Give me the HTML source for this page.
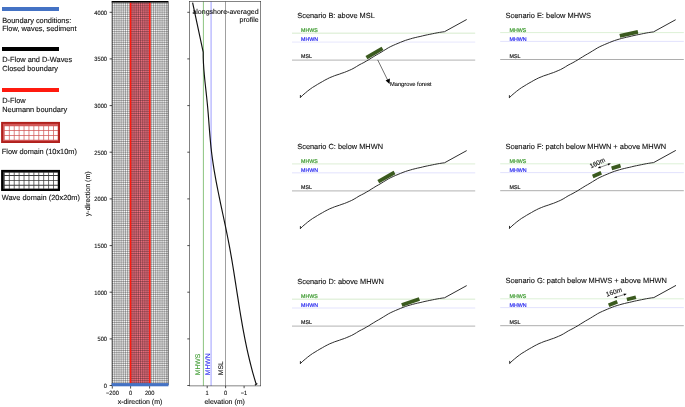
<!DOCTYPE html>
<html><head><meta charset="utf-8"><title>Figure</title>
<style>
html,body{margin:0;padding:0;background:#fff;}
body{width:685px;height:407px;overflow:hidden;}
svg{display:block;font-family:"Liberation Sans",Arial,sans-serif;}
.lg{font-size:7.4px;fill:#111;stroke:#111;}
.tk{font-size:6.2px;fill:#111;stroke:#111;}
.ax{font-size:7px;fill:#111;stroke:#111;}
.ti{font-size:7.38px;fill:#111;stroke:#111;}
.sm{font-size:5.3px;stroke-width:0.18px;}
text{stroke-width:0.12px;text-rendering:geometricPrecision;}
</style></head><body>
<svg width="685" height="407" viewBox="0 0 685 407">
<defs>
<pattern id="wg" x="112" y="385.5" width="1.866" height="1.866" patternUnits="userSpaceOnUse">
<path d="M0 0H1.87M0 0V1.87" stroke="#000" stroke-width="0.56" fill="none"/>
</pattern>
<pattern id="fg" x="130.5" y="384.5" width="0.93" height="0.93" patternUnits="userSpaceOnUse">
<path d="M0 0H0.93M0 0V0.93" stroke="#e01020" stroke-width="0.5" fill="none"/>
</pattern>
<path id="curve" d="M300.4 95 L300.4 97.7 L300.4 97.5 L302.8 95.1 L305.3 93.0 L307.7 91.0 L310.2 89.1 L312.6 87.4 L315.1 85.9 L317.5 84.4 L319.9 83.0 L322.4 81.6 L324.8 80.2 L327.3 78.9 L329.7 77.7 L332.2 76.7 L334.6 75.7 L337.0 74.9 L339.5 74.1 L341.9 73.2 L344.4 72.4 L346.8 71.4 L349.2 70.4 L351.7 69.3 L354.1 68.0 L356.6 66.5 L359.0 65.0 L361.5 63.7 L363.9 62.5 L366.3 61.1 L368.8 59.7 L371.2 58.1 L373.7 56.6 L376.1 55.1 L378.6 53.7 L381.0 52.3 L383.4 50.8 L385.9 49.3 L388.3 47.8 L390.8 46.5 L393.2 45.4 L395.7 44.3 L398.1 43.3 L400.5 42.3 L403.0 41.3 L405.4 40.4 L407.9 39.6 L410.3 38.9 L412.7 38.2 L415.2 37.6 L417.6 37.0 L420.1 36.5 L422.5 35.9 L425.0 35.3 L427.4 34.8 L429.8 34.3 L432.3 33.8 L434.7 33.3 L437.2 32.8 L439.6 32.4 L442.1 32.0 L444.5 31.7 L466.7 19.5" fill="none" stroke="#222" stroke-width="0.95" stroke-linejoin="round"/>
<g id="linesL">
<line x1="292" x2="475.2" y1="33.3" y2="33.3" stroke="#e4f2de" stroke-width="1.4"/>
<line x1="292" x2="475.2" y1="42.1" y2="42.1" stroke="#ececfe" stroke-width="1.4"/>
<line x1="292" x2="475.2" y1="60.2" y2="60.2" stroke="#c2c2c2" stroke-width="1.2"/>
</g>
<g id="linesR">
<line x1="291.6" x2="475.2" y1="33.3" y2="33.3" stroke="#c4e6ba" stroke-width="0.6"/>
<line x1="291.6" x2="475.2" y1="42.1" y2="42.1" stroke="#d6d6fc" stroke-width="0.7"/>
<line x1="291.6" x2="475.2" y1="60.2" y2="60.2" stroke="#a4a4a4" stroke-width="0.9"/>
</g>
<rect id="patch" x="-9.3" y="-1.9" width="18.6" height="3.8" fill="#3b5a1f"/>
<rect id="spatch" x="-4.65" y="-1.85" width="9.3" height="3.7" fill="#3b5a1f"/>
</defs>
<rect width="685" height="407" fill="#fff"/>

<g>
<rect x="2" y="7" width="57" height="4" fill="#4472c4"/>
<text class="lg" x="2.2" y="22.6">Boundary conditions:</text>
<text class="lg" x="2.2" y="31.4">Flow, waves, sediment</text>
<rect x="2" y="47" width="57" height="4" fill="#000"/>
<text class="lg" x="2.2" y="62.3">D-Flow and D-Waves</text>
<text class="lg" x="2.2" y="70.8">Closed boundary</text>
<rect x="2" y="88" width="57" height="4" fill="#ff1a0f"/>
<text class="lg" x="2.2" y="103.4">D-Flow</text>
<text class="lg" x="2.2" y="112.3">Neumann boundary</text>

<rect x="1.1" y="121.9" width="58.9" height="21.1" fill="#b0201c"/><rect x="3" y="123.80000000000001" width="55.1" height="17.3" fill="#d25858"/><path d="M4.68 126.25h4.2v3.90h-4.2zM4.68 130.95h4.2v4.00h-4.2zM4.68 135.75h4.2v4.10h-4.2zM9.61 126.25h4.2v3.90h-4.2zM9.61 130.95h4.2v4.00h-4.2zM9.61 135.75h4.2v4.10h-4.2zM14.54 126.25h4.2v3.90h-4.2zM14.54 130.95h4.2v4.00h-4.2zM14.54 135.75h4.2v4.10h-4.2zM19.47 126.25h4.2v3.90h-4.2zM19.47 130.95h4.2v4.00h-4.2zM19.47 135.75h4.2v4.10h-4.2zM24.40 126.25h4.2v3.90h-4.2zM24.40 130.95h4.2v4.00h-4.2zM24.40 135.75h4.2v4.10h-4.2zM29.33 126.25h4.2v3.90h-4.2zM29.33 130.95h4.2v4.00h-4.2zM29.33 135.75h4.2v4.10h-4.2zM34.26 126.25h4.2v3.90h-4.2zM34.26 130.95h4.2v4.00h-4.2zM34.26 135.75h4.2v4.10h-4.2zM39.19 126.25h4.2v3.90h-4.2zM39.19 130.95h4.2v4.00h-4.2zM39.19 135.75h4.2v4.10h-4.2zM44.12 126.25h4.2v3.90h-4.2zM44.12 130.95h4.2v4.00h-4.2zM44.12 135.75h4.2v4.10h-4.2zM49.05 126.25h4.2v3.90h-4.2zM49.05 130.95h4.2v4.00h-4.2zM49.05 135.75h4.2v4.10h-4.2zM53.98 126.25h3.7v3.90h-3.7zM53.98 130.95h3.7v4.00h-3.7zM53.98 135.75h3.7v4.10h-3.7z" fill="#fff"/>
<text class="lg" x="1.8" y="153.7">Flow domain (10x10m)</text>
<rect x="1.1" y="169.9" width="58.9" height="21.1" fill="#000"/><rect x="3" y="171.8" width="55.1" height="17.3" fill="#383838"/><path d="M4.68 172.85h4.2v2.20h-4.2zM4.68 175.95h4.2v4.00h-4.2zM4.68 180.85h4.2v3.80h-4.2zM4.68 185.75h4.2v2.80h-4.2zM9.61 172.85h4.2v2.20h-4.2zM9.61 175.95h4.2v4.00h-4.2zM9.61 180.85h4.2v3.80h-4.2zM9.61 185.75h4.2v2.80h-4.2zM14.54 172.85h4.2v2.20h-4.2zM14.54 175.95h4.2v4.00h-4.2zM14.54 180.85h4.2v3.80h-4.2zM14.54 185.75h4.2v2.80h-4.2zM19.47 172.85h4.2v2.20h-4.2zM19.47 175.95h4.2v4.00h-4.2zM19.47 180.85h4.2v3.80h-4.2zM19.47 185.75h4.2v2.80h-4.2zM24.40 172.85h4.2v2.20h-4.2zM24.40 175.95h4.2v4.00h-4.2zM24.40 180.85h4.2v3.80h-4.2zM24.40 185.75h4.2v2.80h-4.2zM29.33 172.85h4.2v2.20h-4.2zM29.33 175.95h4.2v4.00h-4.2zM29.33 180.85h4.2v3.80h-4.2zM29.33 185.75h4.2v2.80h-4.2zM34.26 172.85h4.2v2.20h-4.2zM34.26 175.95h4.2v4.00h-4.2zM34.26 180.85h4.2v3.80h-4.2zM34.26 185.75h4.2v2.80h-4.2zM39.19 172.85h4.2v2.20h-4.2zM39.19 175.95h4.2v4.00h-4.2zM39.19 180.85h4.2v3.80h-4.2zM39.19 185.75h4.2v2.80h-4.2zM44.12 172.85h4.2v2.20h-4.2zM44.12 175.95h4.2v4.00h-4.2zM44.12 180.85h4.2v3.80h-4.2zM44.12 185.75h4.2v2.80h-4.2zM49.05 172.85h4.2v2.20h-4.2zM49.05 175.95h4.2v4.00h-4.2zM49.05 180.85h4.2v3.80h-4.2zM49.05 185.75h4.2v2.80h-4.2zM53.98 172.85h3.7v2.20h-3.7zM53.98 175.95h3.7v4.00h-3.7zM53.98 180.85h3.7v3.80h-3.7zM53.98 185.75h3.7v2.80h-3.7z" fill="#fff"/>
<text class="lg" x="1.8" y="200.4">Wave domain (20x20m)</text></g>
<g>
<rect x="112" y="2.4" width="56.3" height="382.6" fill="#fff"/>
<rect x="130.5" y="2.4" width="19.4" height="382.6" fill="#ff94a4"/>
<rect x="130.5" y="2.4" width="19.4" height="382.6" fill="url(#fg)" opacity="0.5"/>
<rect x="112" y="2.4" width="56.3" height="382.6" fill="url(#wg)"/>
<line x1="130.5" x2="130.5" y1="2.4" y2="385" stroke="#ff1a0f" stroke-width="1.6"/>
<line x1="149.9" x2="149.9" y1="2.4" y2="385" stroke="#ff1a0f" stroke-width="1.6"/>
<line x1="112.1" x2="112.1" y1="2.4" y2="385" stroke="#000" stroke-width="0.6"/>
<line x1="168.2" x2="168.2" y1="2.4" y2="385" stroke="#000" stroke-width="0.6"/>
<rect x="111.6" y="1" width="56.9" height="1.6" fill="#000"/>
<rect x="111.6" y="383.1" width="56.9" height="3.2" fill="#4472c4"/>

<line x1="109.6" x2="112" y1="385.5" y2="385.5" stroke="#000" stroke-width="0.7"/>
<text class="tk" transform="translate(107.0 388.0) scale(0.92 1)" text-anchor="end">0</text>
<line x1="187.3" x2="189.6" y1="385.5" y2="385.5" stroke="#000" stroke-width="0.7"/>
<line x1="109.6" x2="112" y1="338.9" y2="338.9" stroke="#000" stroke-width="0.7"/>
<text class="tk" transform="translate(107.0 341.4) scale(0.92 1)" text-anchor="end">500</text>
<line x1="187.3" x2="189.6" y1="338.9" y2="338.9" stroke="#000" stroke-width="0.7"/>
<line x1="109.6" x2="112" y1="292.2" y2="292.2" stroke="#000" stroke-width="0.7"/>
<text class="tk" transform="translate(107.0 294.7) scale(0.92 1)" text-anchor="end">1000</text>
<line x1="187.3" x2="189.6" y1="292.2" y2="292.2" stroke="#000" stroke-width="0.7"/>
<line x1="109.6" x2="112" y1="245.6" y2="245.6" stroke="#000" stroke-width="0.7"/>
<text class="tk" transform="translate(107.0 248.1) scale(0.92 1)" text-anchor="end">1500</text>
<line x1="187.3" x2="189.6" y1="245.6" y2="245.6" stroke="#000" stroke-width="0.7"/>
<line x1="109.6" x2="112" y1="198.9" y2="198.9" stroke="#000" stroke-width="0.7"/>
<text class="tk" transform="translate(107.0 201.4) scale(0.92 1)" text-anchor="end">2000</text>
<line x1="187.3" x2="189.6" y1="198.9" y2="198.9" stroke="#000" stroke-width="0.7"/>
<line x1="109.6" x2="112" y1="152.2" y2="152.2" stroke="#000" stroke-width="0.7"/>
<text class="tk" transform="translate(107.0 154.8) scale(0.92 1)" text-anchor="end">2500</text>
<line x1="187.3" x2="189.6" y1="152.2" y2="152.2" stroke="#000" stroke-width="0.7"/>
<line x1="109.6" x2="112" y1="105.6" y2="105.6" stroke="#000" stroke-width="0.7"/>
<text class="tk" transform="translate(107.0 108.1) scale(0.92 1)" text-anchor="end">3000</text>
<line x1="187.3" x2="189.6" y1="105.6" y2="105.6" stroke="#000" stroke-width="0.7"/>
<line x1="109.6" x2="112" y1="58.9" y2="58.9" stroke="#000" stroke-width="0.7"/>
<text class="tk" transform="translate(107.0 61.4) scale(0.92 1)" text-anchor="end">3500</text>
<line x1="187.3" x2="189.6" y1="58.9" y2="58.9" stroke="#000" stroke-width="0.7"/>
<line x1="109.6" x2="112" y1="12.3" y2="12.3" stroke="#000" stroke-width="0.7"/>
<text class="tk" transform="translate(107.0 14.8) scale(0.92 1)" text-anchor="end">4000</text>
<line x1="187.3" x2="189.6" y1="12.3" y2="12.3" stroke="#000" stroke-width="0.7"/>
<line x1="112.3" x2="112.3" y1="386.2" y2="388.6" stroke="#000" stroke-width="0.7"/>
<text class="tk" transform="translate(112.4 395.4) scale(0.92 1)" text-anchor="middle">−200</text>
<line x1="130.6" x2="130.6" y1="386.2" y2="388.6" stroke="#000" stroke-width="0.7"/>
<text class="tk" transform="translate(130.6 395.4) scale(0.92 1)" text-anchor="middle">0</text>
<line x1="149.6" x2="149.6" y1="386.2" y2="388.6" stroke="#000" stroke-width="0.7"/>
<text class="tk" transform="translate(149.7 395.4) scale(0.92 1)" text-anchor="middle">200</text>
<text class="ax" x="140" y="404.3" text-anchor="middle">x-direction (m)</text>
<text class="ax" transform="translate(89.9 193.8) rotate(-90)" text-anchor="middle">y-direction (m)</text></g>
<g>
<line x1="203.4" x2="203.4" y1="1.5" y2="385.9" stroke="#6fb55f" stroke-width="0.8"/>
<line x1="211.1" x2="211.1" y1="1.5" y2="385.9" stroke="#b9b9ff" stroke-width="1.4"/>
<line x1="225.5" x2="225.5" y1="1.5" y2="385.9" stroke="#777" stroke-width="0.7"/>
<path d="M192.6 2.7 L203.2 52.1 L203.23 57.7 L203.47 63.3 L203.83 69.0 L204.30 74.6 L204.83 80.2 L205.42 85.8 L206.04 91.4 L206.64 97.0 L207.22 102.7 L207.75 108.3 L208.22 113.9 L208.66 119.5 L209.09 125.1 L209.52 130.7 L209.98 136.4 L210.48 142.0 L211.04 147.6 L211.68 153.2 L212.41 158.8 L213.23 164.4 L214.13 170.1 L215.10 175.7 L216.12 181.3 L217.20 186.9 L218.32 192.5 L219.47 198.1 L220.64 203.8 L221.83 209.4 L223.03 215.0 L224.22 220.6 L225.41 226.2 L226.57 231.8 L227.71 237.5 L228.81 243.1 L229.86 248.7 L230.87 254.3 L231.84 259.9 L232.77 265.5 L233.69 271.2 L234.58 276.8 L235.45 282.4 L236.32 288.0 L237.19 293.6 L238.07 299.2 L238.95 304.9 L239.85 310.5 L240.78 316.1 L241.73 321.7 L242.72 327.3 L243.76 332.9 L244.84 338.6 L245.97 344.2 L247.17 349.8 L248.43 355.4 L249.77 361.0 L251.18 366.6 L252.68 372.3 L254.27 377.9 L255.96 383.5 L257.0 383.7 L254.9 385.2" fill="none" stroke="#111" stroke-width="1.15" stroke-linejoin="round"/>
<rect x="189.6" y="1.5" width="71.1" height="384.4" fill="none" stroke="#333" stroke-width="0.6"/>
<text class="ax" x="258.6" y="14.4" text-anchor="end">alongshore-averaged</text>
<text class="ax" x="258.6" y="21.6" text-anchor="end">profile</text>
<text transform="translate(200.3 375.2) rotate(-90)" font-size="6.75" fill="#3c9a2e" stroke="#3c9a2e">MHWS</text>
<text transform="translate(210.2 375.2) rotate(-90)" font-size="6.75" fill="#2a2af0" stroke="#2a2af0">MHWN</text>
<text transform="translate(223.2 375.2) rotate(-90)" font-size="6.75" fill="#111" stroke="#111">MSL</text>

<line x1="207.2" x2="207.2" y1="385.9" y2="388.2" stroke="#000" stroke-width="0.7"/>
<text class="tk" transform="translate(207.2 395.4) scale(0.92 1)" text-anchor="middle">1</text>
<line x1="225.6" x2="225.6" y1="385.9" y2="388.2" stroke="#000" stroke-width="0.7"/>
<text class="tk" transform="translate(225.6 395.4) scale(0.92 1)" text-anchor="middle">0</text>
<line x1="244.1" x2="244.1" y1="385.9" y2="388.2" stroke="#000" stroke-width="0.7"/>
<text class="tk" transform="translate(243.9 395.4) scale(0.92 1)" text-anchor="middle">−1</text>
<text class="ax" x="224.7" y="404.4" text-anchor="middle">elevation (m)</text></g>
<g transform="translate(0 0)"><use href="#linesL" transform="translate(0 0)"/><text class="ti" x="297.3" y="17.7">Scenario B: above MSL</text><text class="sm" x="301" y="31.6" fill="#3c9a2e" stroke="#3c9a2e">MHWS</text><text class="sm" x="301" y="40.7" fill="#2a2af0" stroke="#2a2af0">MHWN</text><text class="sm" x="301" y="57.8" fill="#222" stroke="#222">MSL</text><use href="#curve" transform="translate(0 0)"/><use href="#patch" transform="translate(374.5 53.0) rotate(-30.5)"/><line x1="377.7" y1="59.9" x2="388.4" y2="81.6" stroke="#111" stroke-width="0.6"/>
<path d="M389.6 84 L385.6 80.6 L389.9 78.6 Z" fill="#000"/>
<text x="389.9" y="85.7" font-size="5.75" fill="#111" stroke="#111">Mangrove forest</text></g>
<g transform="translate(0 130.6)"><use href="#linesL" transform="translate(0 0)"/><text class="ti" x="297.3" y="18.1">Scenario C: below MHWN</text><text class="sm" x="301" y="32.3" fill="#3c9a2e" stroke="#3c9a2e">MHWS</text><text class="sm" x="301" y="41.4" fill="#2a2af0" stroke="#2a2af0">MHWN</text><text class="sm" x="301" y="58.5" fill="#222" stroke="#222">MSL</text><use href="#curve" transform="translate(0 0.5)"/><use href="#patch" transform="translate(386.4 46.5) rotate(-29.5)"/></g>
<g transform="translate(0 265.7)"><use href="#linesL" transform="translate(0 0.2)"/><text class="ti" x="297.3" y="18.2">Scenario D: above MHWN</text><text class="sm" x="301" y="32.3" fill="#3c9a2e" stroke="#3c9a2e">MHWS</text><text class="sm" x="301" y="41.4" fill="#2a2af0" stroke="#2a2af0">MHWN</text><text class="sm" x="301" y="58.5" fill="#222" stroke="#222">MSL</text><use href="#curve" transform="translate(0 0.4)"/><use href="#patch" transform="translate(410.6 36.30000000000001) rotate(-19.3)"/></g>
<g transform="translate(208.6 0)"><use href="#linesR" transform="translate(0 -0.7)"/><text class="ti" style="font-size:7.45px" x="296.9" y="17.7">Scenario E: below MHWS</text><text class="sm" x="301" y="31.6" fill="#3c9a2e" stroke="#3c9a2e">MHWS</text><text class="sm" x="301" y="40.7" fill="#2a2af0" stroke="#2a2af0">MHWN</text><text class="sm" x="301" y="57.8" fill="#222" stroke="#222">MSL</text><use href="#curve" transform="translate(0.4 0.2)"/><use href="#patch" transform="translate(420.29999999999995 33.9) rotate(-12.9)"/></g>
<g transform="translate(208.6 130.6)"><use href="#linesR" transform="translate(0 -0.1)"/><text class="ti" style="font-size:7.45px" x="296.9" y="18.4">Scenario F: patch below MHWN + above MHWN</text><text class="sm" x="301" y="32.2" fill="#3c9a2e" stroke="#3c9a2e">MHWS</text><text class="sm" x="301" y="41.3" fill="#2a2af0" stroke="#2a2af0">MHWN</text><text class="sm" x="301" y="58.4" fill="#222" stroke="#222">MSL</text><use href="#curve" transform="translate(0.5 0.3)"/><use href="#spatch" transform="translate(388.4 44.0) rotate(-24)"/><use href="#spatch" transform="translate(407.5 36.400000000000006) rotate(-17)"/><line x1="389.4" y1="37.400000000000006" x2="401.9" y2="33.0" stroke="#111" stroke-width="0.5"/><path d="M401.90 33.00L399.81 34.90L399.08 32.83Z" fill="#000"/><path d="M389.40 37.40L391.49 35.50L392.22 37.57Z" fill="#000"/><text transform="translate(389.79999999999995 34.400000000000006) rotate(-26)" font-size="6.6" text-anchor="middle" fill="#111" stroke="#111">160m</text></g>
<g transform="translate(208.6 265.7)"><use href="#linesR" transform="translate(0 -0.2)"/><text class="ti" style="font-size:7.45px" x="296.9" y="17.7">Scenario G: patch below MHWS + above MHWN</text><text class="sm" x="301" y="32.3" fill="#3c9a2e" stroke="#3c9a2e">MHWS</text><text class="sm" x="301" y="41.4" fill="#2a2af0" stroke="#2a2af0">MHWN</text><text class="sm" x="301" y="58.5" fill="#222" stroke="#222">MSL</text><use href="#curve" transform="translate(0.7 0.2)"/><use href="#spatch" transform="translate(404.4 37.80000000000001) rotate(-22)"/><use href="#spatch" transform="translate(422.79999999999995 32.69999999999999) rotate(-14)"/><line x1="405.6" y1="32.0" x2="417.79999999999995" y2="28.19999999999999" stroke="#111" stroke-width="0.5"/><path d="M417.80 28.20L415.64 30.02L414.99 27.92Z" fill="#000"/><path d="M405.60 32.00L407.76 30.18L408.41 32.28Z" fill="#000"/><text transform="translate(406.0 28.5) rotate(-18)" font-size="6.6" text-anchor="middle" fill="#111" stroke="#111">160m</text></g>
</svg></body></html>
